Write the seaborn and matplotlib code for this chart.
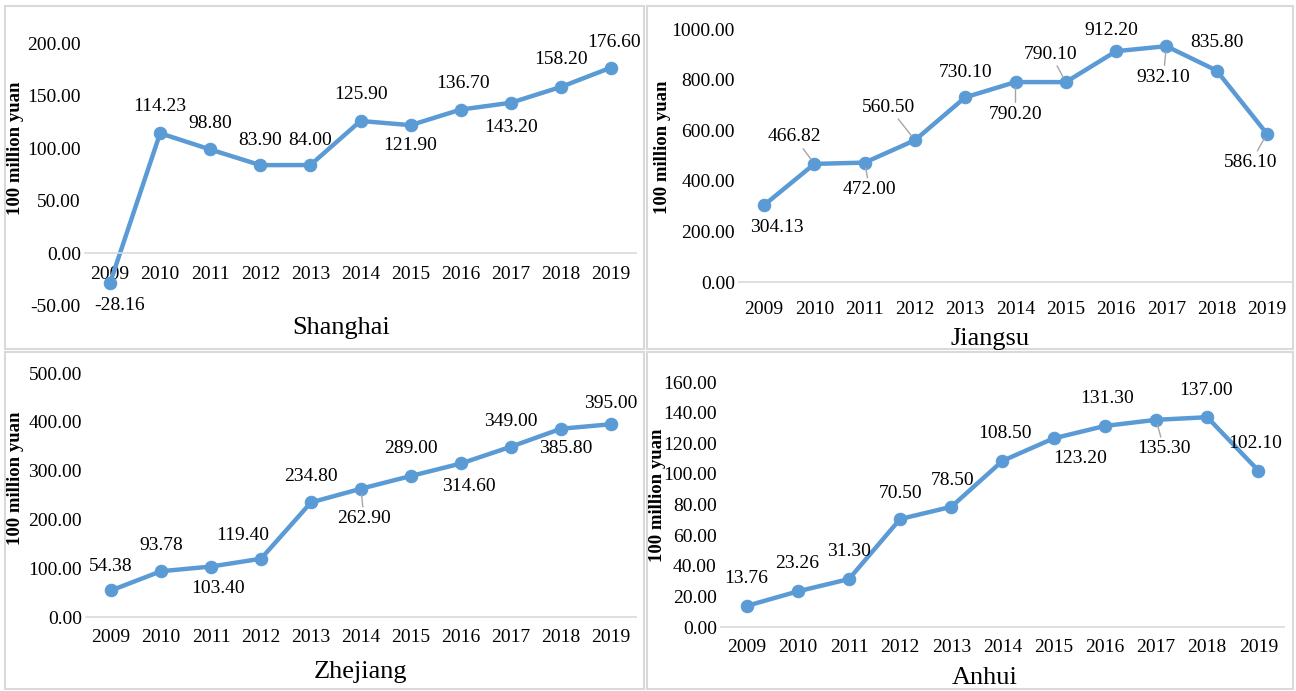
import matplotlib
matplotlib.use("Agg")
import matplotlib.pyplot as plt
from matplotlib.patches import Rectangle
import numpy as np
import pandas as pd
import seaborn as sns

# values (100 million yuan)
years = [2009, 2010, 2011, 2012, 2013, 2014, 2015, 2016, 2017, 2018, 2019]
shanghai = [-28.16, 114.23, 98.80, 83.90, 84.00, 125.90, 121.90, 136.70, 143.20, 158.20, 176.60]
jiangsu = [304.13, 466.82, 472.00, 560.50, 730.10, 790.20, 790.10, 912.20, 932.10, 835.80, 586.10]
zhejiang = [54.38, 93.78, 103.40, 119.40, 234.80, 262.90, 289.00, 314.60, 349.00, 385.80, 395.00]
anhui = [13.76, 23.26, 31.30, 70.50, 78.50, 108.50, 123.20, 131.30, 135.30, 137.00, 102.10]

W, H = 1296, 691
LINE_COLOR = "#5B9BD5"
LEADER = "#a6a6a6"

sns.set_theme(style="white")
plt.rcParams["font.family"] = ["Liberation Serif", "DejaVu Serif"]
plt.rcParams["text.color"] = "black"

# panel layout in pixels: axes box (left, top, right, bottom), y range/ticks,
# ylabel pos, title pos, label offsets (dx, dy) and which labels get leader lines
panels = [
    dict(name="Shanghai", values=shanghai, box=(85, 43, 636, 306), ylim=(-50, 200), step=50,
         ylab=(16, 148), title=(341, 328), xpad=9,
         offsets=[(10, -22), (0, 27), (0, 26), (0, 25), (0, 25), (1, 26), (0, -20), (2, 26), (0, -25), (0, 27), (3, 25)],
         leaders=[]),
    dict(name="Jiangsu", values=jiangsu, box=(739, 29, 1292, 282), ylim=(0, 1000), step=200,
         ylab=(662, 147), title=(990, 339), xpad=14,
         offsets=[(13, -22), (-20, 27), (5, -27), (-26, 33), (0, 25), (0, -32), (-15, 28), (-5, 21), (-3, -31), (0, 28), (-16, -29)],
         leaders=[1, 2, 3, 5, 6, 8, 10]),
    dict(name="Zhejiang", values=zhejiang, box=(86, 373, 636, 617), ylim=(0, 500), step=100,
         ylab=(16, 478), title=(360, 672), xpad=9,
         offsets=[(0, 24), (0, 26), (7, -22), (-18, 23), (0, 26), (3, -30), (0, 27), (8, -23), (0, 25), (5, -20), (0, 21)],
         leaders=[5]),
    dict(name="Anhui", values=anhui, box=(721, 382, 1284, 627), ylim=(0, 160), step=20,
         ylab=(657, 495), title=(985, 678), xpad=9,
         offsets=[(0, 27), (-1, 28), (0, 28), (0, 26), (1, 26), (2, 27), (26, -20), (2, 27), (8, -29), (-1, 27), (-3, 27)],
         leaders=[8]),
]

fig = plt.figure(figsize=(W / 100, H / 100), dpi=100)

# light grey frames around each panel
for x0, y0, x1, y1 in [(5, 6, 644, 349), (647, 6, 1293, 349), (5, 352, 644, 689), (647, 352, 1293, 689)]:
    fig.patches.append(Rectangle((x0 / W, 1 - y1 / H), (x1 - x0) / W, (y1 - y0) / H,
                                 transform=fig.transFigure, fill=False, edgecolor="#d9d9d9", lw=1.5))

for p in panels:
    left, top, right, bottom = p["box"]
    ax = fig.add_axes([left / W, 1 - bottom / H, (right - left) / W, (bottom - top) / H])
    df = pd.DataFrame({"year": years, "value": p["values"]})
    sns.lineplot(data=df, x="year", y="value", ax=ax, color=LINE_COLOR, linewidth=3.2,
                 marker="o", markersize=9, markeredgecolor=LINE_COLOR)

    ax.set_xlim(years[0] - 0.5, years[-1] + 0.5)
    ax.set_ylim(*p["ylim"])
    ax.set_xticks(years)
    ax.set_xticklabels([str(y) for y in years])
    ticks = np.arange(p["ylim"][0], p["ylim"][1] + 1, p["step"])
    ax.set_yticks(ticks)
    ax.set_yticklabels([f"{t:.2f}" for t in ticks])
    ax.tick_params(axis="both", length=0, labelsize=14, colors="black")
    ax.tick_params(axis="y", pad=3)
    ax.tick_params(axis="x", pad=p["xpad"])

    for side in ["top", "right", "left"]:
        ax.spines[side].set_visible(False)
    ax.spines["bottom"].set_position(("data", 0))
    ax.spines["bottom"].set_color("#d9d9d9")
    ax.spines["bottom"].set_linewidth(1.2)
    ax.set_facecolor("none")
    ax.grid(False)
    ax.set_xlabel("")
    ax.set_ylabel("")

    for i, (yr, val) in enumerate(zip(years, p["values"])):
        dx, dy = p["offsets"][i]
        arrow = None
        if i in p["leaders"]:
            arrow = dict(arrowstyle="-", color=LEADER, lw=1, shrinkA=0, shrinkB=4)
        ax.annotate(f"{val:.2f}", xy=(yr, val), xytext=(dx, dy), textcoords="offset pixels",
                    ha="center", va="center", fontsize=14, color="black",
                    arrowprops=arrow, annotation_clip=False)

    fig.text(p["ylab"][0] / W, 1 - p["ylab"][1] / H, "100 million yuan", rotation=90,
             ha="center", va="center", fontsize=13.5, fontweight="bold", color="black")
    fig.text(p["title"][0] / W, 1 - p["title"][1] / H, p["name"], ha="center", va="center",
             fontsize=19, color="black")

fig.savefig("out.png", dpi=100)
plt.close(fig)
